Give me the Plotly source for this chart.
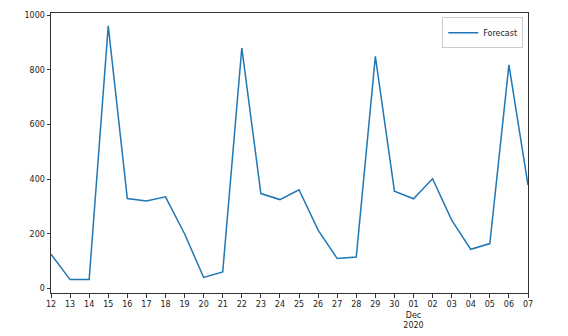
import pandas as pd
import plotly.graph_objects as go

dates = pd.date_range("2020-11-12", "2020-12-07", freq="D")
forecast = [125, 32, 32, 961, 329, 320, 335, 200, 40, 60, 880, 347, 325, 361,
            213, 109, 115, 849, 356, 328, 401, 250, 143, 164, 818, 378]
tick_labels = [d.strftime("%d") for d in dates]
tick_labels[dates.get_loc(pd.Timestamp("2020-12-01"))] = "01<br>Dec<br>2020"
y_ticks = [0, 200, 400, 600, 800, 1000]

fig = go.Figure()
fig.add_trace(go.Scatter(x=dates, y=forecast, mode="lines", name="Forecast",
                         line=dict(color="#1f77b4", width=1.5)))

axis_common = dict(showline=True, mirror=True, linecolor="#333333", linewidth=1,
                   ticks="outside", ticklen=3.5, tickwidth=1, tickcolor="#333333",
                   showgrid=False, zeroline=False, automargin=False,
                   tickfont=dict(family="DejaVu Sans", size=8, color="#222222"))

fig.update_layout(
    width=568, height=336,
    margin=dict(l=51, r=40, t=13, b=43),
    paper_bgcolor="white", plot_bgcolor="white",
    showlegend=True,
    legend=dict(x=0.99, y=0.985, xanchor="right", yanchor="top",
                bordercolor="#cccccc", borderwidth=1, bgcolor="white",
                font=dict(family="DejaVu Sans", size=8, color="#222222"),
                itemwidth=30, tracegroupgap=0),
    xaxis=dict(range=[dates[0], dates[-1]], tickmode="array",
               tickvals=list(dates), ticktext=tick_labels, tickangle=0,
               **axis_common),
    yaxis=dict(range=[-17, 1008], tickmode="array", tickvals=y_ticks,
               ticktext=[str(v) for v in y_ticks], **axis_common),
)

fig.write_html("out.html")
